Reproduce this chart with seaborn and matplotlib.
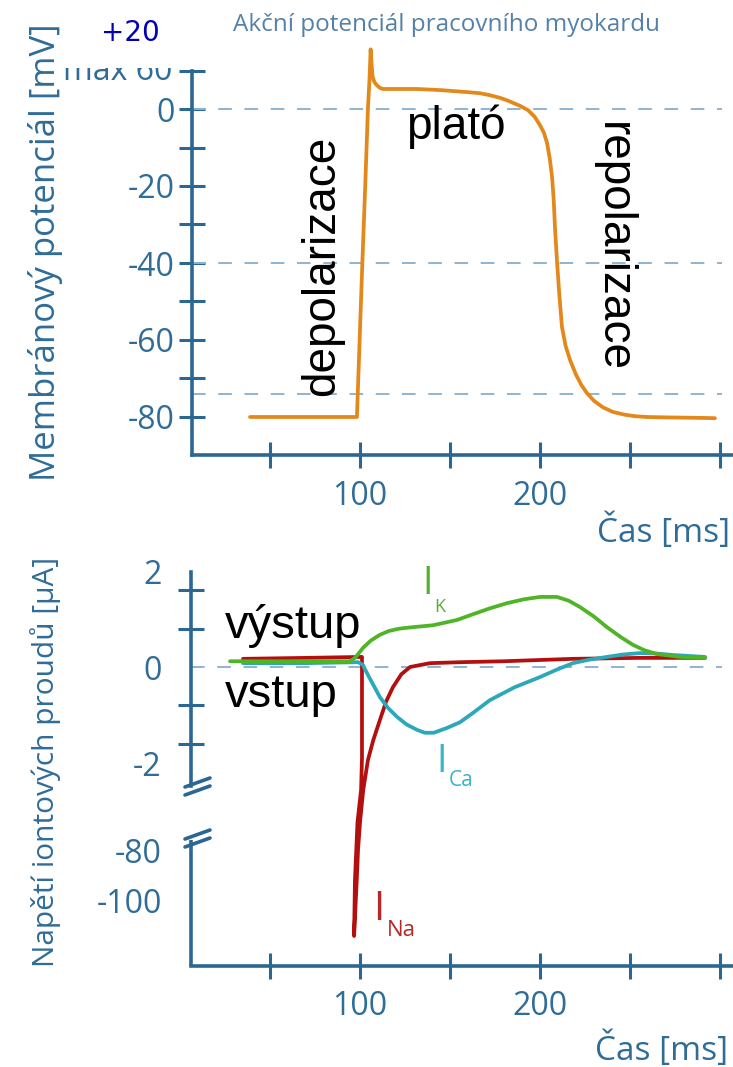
import numpy as np
import pandas as pd
import matplotlib
matplotlib.use("Agg")
import matplotlib.pyplot as plt
import seaborn as sns
from matplotlib.transforms import Bbox, TransformedBbox
from matplotlib.lines import Line2D

# ---------------- data ----------------
ap_time = [38.9, 60, 80, 98.3, 99.8, 101.3, 102.9, 104.4, 105.3, 105.9, 106.4, 107.0, 108.0,
           109.3, 111.0, 112.8, 120, 131.7, 145, 159.4, 166.7, 172, 177.8, 182, 185, 189,
           193.3, 197, 200, 202.2, 203.9, 205.4, 206.7, 207.6, 208.3, 209.4, 210.7, 212.2,
           214.2, 216.7, 220, 223, 226.1, 230, 235, 240.6, 247, 253, 259.4, 270, 285, 297.2]
ap_mv = [-80, -80, -80, -80, -60, -40, -20, 0, 8, 15.5, 12, 8.4, 7.0,
         6.2, 5.5, 5.2, 5.2, 5.2, 4.9, 4.4, 4.1, 3.6, 2.9, 2.2, 1.6, 0.8,
         -0.3, -2.0, -4.2, -6.2, -8.8, -12.8, -17.7, -23.5, -30.6, -39.2, -48.0, -56.6,
         -61.5, -65.2, -69.0, -71.7, -73.8, -75.8, -77.5, -78.7, -79.4, -79.8, -80, -80.1, -80.2, -80.3]

ik_time = [27.8, 60, 94.4, 97.5, 101.7, 106, 111, 116, 122, 129.4, 140.6, 153.9, 162.8, 172,
           181.7, 191, 200, 209.4, 216, 222.2, 230, 237.2, 245, 251.7, 258, 265, 277.8, 291.7]
ik_val = [0.12, 0.12, 0.12, 0.2, 0.4, 0.55, 0.67, 0.75, 0.8, 0.83, 0.87, 0.98, 1.1, 1.22,
          1.33, 1.41, 1.46, 1.46, 1.38, 1.25, 1.05, 0.83, 0.62, 0.46, 0.35, 0.27, 0.21, 0.19]

ica_time = [35, 70, 98.9, 101.5, 103.9, 107.5, 111.1, 115.5, 120.6, 126, 131.7, 136, 141, 148.3,
            155.6, 163, 172.2, 186, 200, 209, 218.3, 227, 237.2, 246, 255.6, 265, 273.9, 291.7]
ica_val = [0.08, 0.08, 0.1, 0.05, -0.13, -0.38, -0.63, -0.85, -1.04, -1.2, -1.31, -1.37, -1.37, -1.27,
           -1.15, -0.95, -0.69, -0.42, -0.21, -0.06, 0.08, 0.15, 0.21, 0.26, 0.29, 0.28, 0.25, 0.21]

ina_time = [35, 70, 101.1, 101.1, 100.6, 98.6, 97.2, 96.7, 98.2, 98.9, 100.0, 101.8, 104.4,
            107.4, 111.1, 114.5, 118.3, 123, 127.8, 138.9, 155.6, 180, 218.3, 255, 291.7]
ina_val = [0.17, 0.19, 0.21, -1.9, -2.56, -47, -91.8, -114.2, -91.8, -79.8, -47, -2.56, -1.94,
           -1.52, -1.1, -0.72, -0.42, -0.15, 0.0, 0.08, 0.1, 0.12, 0.17, 0.19, 0.19]

x_tick_labeled = [100, 200]
x_tick_unlabeled = [50, 150, 250, 300]
ap_tick_labeled = [-80, -60, -40, -20, 0]
ap_tick_unlabeled = [-70, -50, -30, -10, 10]
ap_ref_lines = [0, -40, -74]
cur_tick_labeled = [2, 0, -2, -80, -100]
cur_tick_marks = [1.6, 0.8, 0, -0.8, -1.6, -100]
cur_ref_lines = [0]

# ---------------- style ----------------
W, H = 733, 1067
sns.set_style("white", {"xtick.bottom": True, "ytick.left": True})
plt.rcParams['font.family'] = ['Open Sans', 'DejaVu Sans']

BLUE = "#2b6793"
TXT = "#2f6c97"
DASH = "#8db4d2"
ORANGE = "#e3891b"
GREEN = "#4fb526"
TEAL = "#2ba8b9"
RED = "#b30f0f"
BLACKFONT = ['Liberation Sans', 'DejaVu Sans']

fig = plt.figure(figsize=(W / 100, H / 100), dpi=100)


def fx(x):
    return x / W


def fy(y):
    return 1 - y / H


PX_PER_MS = 1.8
T0_PX = 180.0

# ---------------- top panel: action potential ----------------
ax1 = fig.add_axes([fx(192), fy(455.5), fx(W) - fx(192), fy(32) - fy(455.5)])
ax1.set_xlim((192 - T0_PX) / PX_PER_MS, (W - T0_PX) / PX_PER_MS)
ax1.set_ylim(-90, 20)
for yv in ap_ref_lines:
    ax1.axhline(yv, xmin=0, xmax=(722 - 192) / (W - 192), color=DASH, lw=1.4,
                dashes=(7, 6.5), zorder=1)
df_ap = pd.DataFrame({"t": ap_time, "v": ap_mv})
sns.lineplot(data=df_ap, x="t", y="v", sort=False, estimator=None, color=ORANGE,
             linewidth=2.7, ax=ax1, zorder=3, solid_joinstyle='round', solid_capstyle='round')

for s in ['top', 'right']:
    ax1.spines[s].set_visible(False)
for s in ['left', 'bottom']:
    ax1.spines[s].set_color(BLUE)
    ax1.spines[s].set_linewidth(2.6)
ax1.spines['left'].set_bounds(-90, 10)

ax1.set_yticks(ap_tick_labeled)
ax1.set_yticklabels([str(v) for v in ap_tick_labeled])
ax1.set_yticks(ap_tick_unlabeled, minor=True)
ax1.set_xticks(x_tick_labeled)
ax1.set_xticklabels([str(v) for v in x_tick_labeled])
ax1.set_xticks(x_tick_unlabeled, minor=True)
ax1.tick_params(which='both', direction='inout', length=19, width=2.2, color=BLUE,
                left=True, bottom=True)
ax1.tick_params(axis='y', which='major', labelsize=23, labelcolor=TXT, pad=2.7)
ax1.tick_params(axis='x', which='major', labelsize=23, labelcolor=TXT, pad=8)
ax1.set_xlabel('')
ax1.set_ylabel('')
ax1.patch.set_alpha(0)

# ---------------- bottom panel: ionic currents (broken axis) ----------------
A_TOP, B_BOT = -2.6, -77.0
S_UP, S_GAP, S_LOW = 48.0, 51.2 / 74.4, 2.5


def fwd(y):
    y = np.asarray(y, dtype=float)
    pa = A_TOP * S_UP
    pb = pa + (B_BOT - A_TOP) * S_GAP
    return np.where(y >= A_TOP, y * S_UP,
                    np.where(y >= B_BOT, pa + (y - A_TOP) * S_GAP, pb + (y - B_BOT) * S_LOW))


def inv(p):
    p = np.asarray(p, dtype=float)
    pa = A_TOP * S_UP
    pb = pa + (B_BOT - A_TOP) * S_GAP
    return np.where(p >= pa, p / S_UP,
                    np.where(p >= pb, A_TOP + (p - pa) / S_GAP, B_BOT + (p - pb) / S_LOW))


ax2 = fig.add_axes([fx(191), fy(965.5), fx(W) - fx(191), fy(561.4) - fy(965.5)])
ax2.set_yscale('function', functions=(fwd, inv))
ax2.set_ylim(-126, 2.2)
ax2.set_xlim((191 - T0_PX) / PX_PER_MS, (W - T0_PX) / PX_PER_MS)
for yv in cur_ref_lines:
    ax2.axhline(yv, xmin=0, xmax=(722 - 191) / (W - 191), color=DASH, lw=1.4,
                dashes=(7, 6.5), zorder=1)

sns.lineplot(x=ina_time, y=ina_val, sort=False, estimator=None, color=RED, linewidth=2.7,
             ax=ax2, zorder=3, solid_joinstyle='round', solid_capstyle='round')
sns.lineplot(x=ica_time, y=ica_val, sort=False, estimator=None, color=TEAL, linewidth=2.7,
             ax=ax2, zorder=4, solid_joinstyle='round', solid_capstyle='round')
sns.lineplot(x=ik_time, y=ik_val, sort=False, estimator=None, color=GREEN, linewidth=2.7,
             ax=ax2, zorder=5, solid_joinstyle='round', solid_capstyle='round')

for s in ['top', 'right']:
    ax2.spines[s].set_visible(False)
for s in ['left', 'bottom']:
    ax2.spines[s].set_color(BLUE)
    ax2.spines[s].set_linewidth(2.6)
ax2.spines['left'].set_bounds(-2.48, 1.98)
# lower segment of the broken y axis
lo, hi = fwd(-126.0), fwd(2.2)
frac = float((fwd(-72.4) - lo) / (hi - lo))
ax2.axvline(ax2.get_xlim()[0], ymin=0, ymax=frac, color=BLUE, lw=2.6, clip_on=False,
            solid_capstyle='butt')

ax2.set_yticks(cur_tick_labeled)
ax2.set_yticklabels([str(v) for v in cur_tick_labeled])
ax2.set_yticks(cur_tick_marks, minor=True)
ax2.set_xticks(x_tick_labeled)
ax2.set_xticklabels([str(v) for v in x_tick_labeled])
ax2.set_xticks(x_tick_unlabeled, minor=True)
ax2.tick_params(axis='x', which='both', direction='inout', length=19, width=2.2, color=BLUE,
                bottom=True)
ax2.tick_params(axis='x', which='major', labelsize=23, labelcolor=TXT, pad=8)
ax2.tick_params(axis='y', which='major', length=0, labelsize=23, labelcolor=TXT, pad=21,
                left=True)
ax2.tick_params(axis='y', which='minor', direction='inout', length=19, width=2.2, color=BLUE,
                left=True)
ax2.set_xlabel('')
ax2.set_ylabel('')
ax2.patch.set_alpha(0)

# break marks "//"
for (x0, y0, x1, y1) in [(185, 787, 210, 778), (185, 795, 210, 786),
                         (185, 839, 210, 830), (185, 847, 210, 838)]:
    fig.add_artist(Line2D([fx(x0), fx(x1)], [fy(y0), fy(y1)], transform=fig.transFigure,
                          color=BLUE, lw=2.6, solid_capstyle='round'))

# ---------------- texts ----------------
fig.text(fx(447), fy(25), "Akční potenciál pracovního myokardu", ha='center', va='center',
         fontsize=17.5, color="#5581a8")
fig.text(fx(130), fy(33), "+20", ha='center', va='center', fontsize=20, color="#0000b4",
         family=['DejaVu Sans'])
tmax = fig.text(fx(172), fy(72), "max 60", ha='right', va='center', fontsize=23, color=TXT)
tmax.set_clip_box(TransformedBbox(Bbox([[0, 0], [1, fy(67.5)]]), fig.transFigure))
tmax.set_clip_on(True)

fig.text(fx(46), fy(252), "Membránový potenciál [mV]", rotation=90, ha='center', va='center',
         fontsize=25, color=TXT)
fig.text(fx(46), fy(762), "Napětí iontových proudů [µA]", rotation=90, ha='center', va='center',
         fontsize=21.5, color=TXT)
fig.text(fx(597), fy(532), "Čas [ms]", ha='left', va='center', fontsize=24, color=TXT)
fig.text(fx(595), fy(1050), "Čas [ms]", ha='left', va='center', fontsize=24, color=TXT)

fig.text(fx(322), fy(266), "depolarizace", rotation=90, ha='center', va='center',
         fontsize=33, family=BLACKFONT, color='black')
fig.text(fx(456), fy(127), "plató", ha='center', va='center', fontsize=33, family=BLACKFONT,
         color='black')
fig.text(fx(613), fy(247), "repolarizace", rotation=270, ha='center', va='center',
         fontsize=33, family=BLACKFONT, color='black')
fig.text(fx(225), fy(626), "výstup", ha='left', va='center', fontsize=34, family=BLACKFONT,
         color='black')
fig.text(fx(225), fy(695), "vstup", ha='left', va='center', fontsize=34, family=BLACKFONT,
         color='black')

fig.text(fx(428), fy(584), "I", ha='center', va='center', fontsize=27, color="#52b030")
fig.text(fx(440), fy(607), "K", ha='center', va='center', fontsize=13, color="#52b030")
fig.text(fx(442), fy(762), "I", ha='center', va='center', fontsize=27, color="#3ab5c5")
fig.text(fx(461), fy(781), "Ca", ha='center', va='center', fontsize=15, color="#3ab5c5")
fig.text(fx(379), fy(910), "I", ha='center', va='center', fontsize=29, color="#b82828")
fig.text(fx(401), fy(931), "Na", ha='center', va='center', fontsize=16, color="#b82828")

fig.savefig("out.png", dpi=100)
